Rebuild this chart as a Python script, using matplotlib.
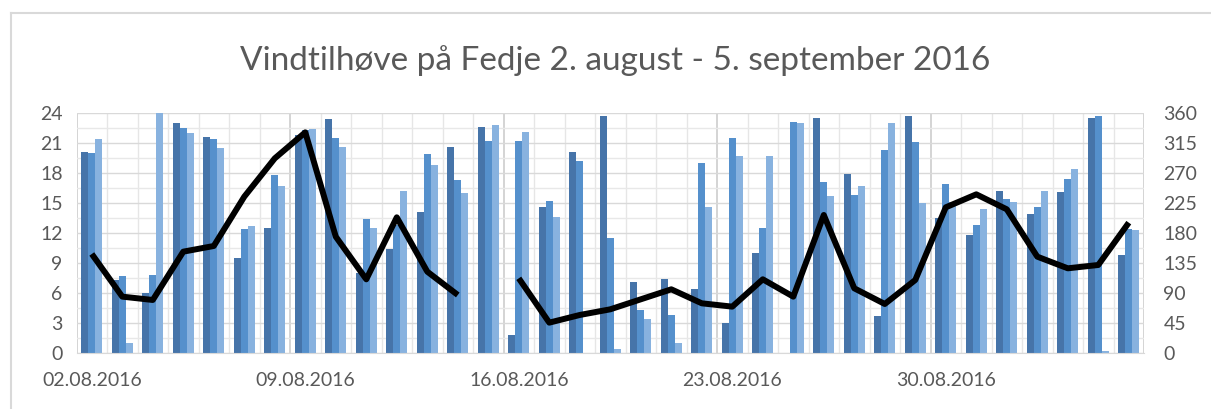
#!/usr/bin/env python3
import matplotlib
matplotlib.use('Agg')
import numpy as np
import pandas as pd
import matplotlib.pyplot as plt
from matplotlib.lines import Line2D

plt.rcParams['font.family'] = ['Lato', 'DejaVu Sans']

dates = pd.date_range('2016-08-02', '2016-09-05', freq='D')

# wind speed, three readings per day (left axis)
speed_a = [20.1, 7.3, 6.0, 23.0, 21.6, 9.5, 12.5, 21.8, 23.4, 8.0, 10.4, 14.1, 20.6, 22.6,
           1.8, 14.6, 20.1, 23.7, 7.1, 7.4, 6.4, 3.0, 10.0, 0.0, 23.5, 17.9, 3.7, 23.7,
           13.5, 11.8, 16.2, 13.9, 16.1, 23.5, 9.8]
speed_b = [20.0, 7.7, 7.8, 22.5, 21.4, 12.4, 17.8, 22.3, 21.5, 13.4, 12.8, 19.9, 17.3, 21.2,
           21.2, 15.2, 19.2, 11.5, 4.3, 3.8, 19.0, 21.5, 12.5, 23.1, 17.1, 15.8, 20.3, 21.1,
           16.9, 12.8, 15.4, 14.6, 17.4, 23.7, 12.4]
speed_c = [21.4, 1.0, 24.0, 22.0, 20.5, 12.7, 16.7, 22.4, 20.6, 12.5, 16.2, 18.8, 16.0, 22.8,
           22.1, 13.6, 0.0, 0.4, 3.4, 1.0, 14.6, 19.7, 19.7, 23.0, 15.7, 16.7, 23.0, 15.0,
           15.1, 14.4, 15.1, 16.2, 18.4, 0.2, 12.3]

# wind direction in degrees (right axis), one day missing
direction = [148.5, 84.5, 79.5, 152, 160.5, 234.5, 292, 331, 174.5, 110.5, 203.5, 122, 87,
             np.nan, 112, 45.5, 57, 65.5, 80.5, 95.5, 74.5, 69.5, 110.5, 84.5, 207, 97, 73.5,
             109.5, 218.5, 238, 215.5, 144.5, 127, 132, 195.5]

left_ticks = list(range(0, 25, 3))
right_ticks = list(range(0, 361, 45))

x = np.arange(len(dates))
grey = '#595959'

fig = plt.figure(figsize=(12.11, 4.09), dpi=100)
ax = fig.add_axes([0.0632, 0.137, 0.8815, 0.5867])

w = 0.23
colors = ['#4674A9', '#5590CC', '#88B2DF']
for k, (vals, c) in enumerate(zip([speed_a, speed_b, speed_c], colors)):
    ax.bar(x + (k - 1) * w, vals, width=w, color=c, zorder=2)

ax.set_xlim(-0.5, len(dates) - 0.5)
ax.set_ylim(0, 24)
ax.set_yticks(left_ticks)
ax.set_yticks(np.arange(1.5, 24, 3), minor=True)
ax.grid(axis='y', which='major', color='#D9D9D9', lw=1, zorder=0)
ax.grid(axis='y', which='minor', color='#E8E8E8', lw=1, zorder=0)
for b in np.arange(-0.5, len(dates), 1):
    major = (b + 0.5) % 7 == 0
    ax.axvline(b, color='#D4D4D4' if major else '#E6E6E6', lw=1.4 if major else 1, zorder=0)
ax.set_axisbelow(True)

ticks_at = x[::7]
ax.set_xticks(ticks_at)
ax.set_xticklabels([dates[i].strftime('%d.%m.%Y') for i in ticks_at])
ax.tick_params(axis='x', length=0, pad=14, labelsize=14, colors=grey)
ax.tick_params(axis='y', which='both', length=0, pad=10, labelsize=14, colors=grey)
for s in ['top', 'left', 'right']:
    ax.spines[s].set_visible(False)
ax.spines['bottom'].set_color('#D9D9D9')

ax2 = ax.twinx()
ax2.plot(x, direction, color='black', lw=4.3, solid_joinstyle='round', solid_capstyle='butt')
ax2.set_ylim(0, 360)
ax2.set_yticks(right_ticks)
ax2.tick_params(axis='y', length=0, pad=14, labelsize=14, colors=grey)
for s in ax2.spines.values():
    s.set_visible(False)

fig.text(0.508, 0.853, 'Vindtilhøve på Fedje 2. august - 5. september 2016',
         ha='center', va='center', fontsize=24, color=grey)

# chart border (only left and top edge are visible)
fig.add_artist(Line2D([11 / 1211, 11 / 1211], [0, 1 - 13 / 409], color='#D9D9D9', lw=1.5))
fig.add_artist(Line2D([11 / 1211, 1], [1 - 13 / 409, 1 - 13 / 409], color='#D9D9D9', lw=1.5))

fig.savefig('out.png', dpi=100)
